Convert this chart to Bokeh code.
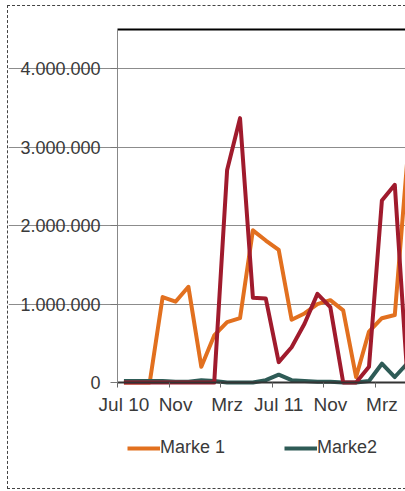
from bokeh.plotting import figure
from bokeh.models import (FixedTicker, LinearAxis, Range1d, Legend, LegendItem,
                          ColumnDataSource)
from bokeh.embed import file_html
from bokeh.resources import INLINE

# ---- data -------------------------------------------------------------
months = ["Jul 10", "Aug 10", "Sep 10", "Okt 10", "Nov 10", "Dez 10",
          "Jan 11", "Feb 11", "Mrz 11", "Apr 11", "Mai 11", "Jun 11",
          "Jul 11", "Aug 11", "Sep 11", "Okt 11", "Nov 11", "Dez 11",
          "Jan 12", "Feb 12", "Mrz 12", "Apr 12", "Mai 12"]
marke1 = [0, 0, 0, 1090000, 1030000, 1220000, 200000, 600000, 770000,
          820000, 1940000, 1810000, 1690000, 800000, 880000, 1000000,
          1050000, 920000, 70000, 650000, 820000, 860000, 2900000]
marke2 = [20000, 20000, 20000, 20000, 10000, 10000, 30000, 20000, 0, 0, 0,
          30000, 100000, 30000, 20000, 10000, 10000, 0, 0, 20000, 240000,
          70000, 250000]
marke3 = [0, 0, 0, 0, 0, 0, 0, 0, 2710000, 3370000, 1080000, 1070000,
          260000, 450000, 750000, 1130000, 960000, 0, 0, 200000, 2320000,
          2520000, 0]
series_names = ["Marke 1", "Marke2"]
x_tick_labels = ["Jul 10", "Nov", "Mrz", "Jul 11", "Nov", "Mrz"]
y_ticks = [0, 1000000, 2000000, 3000000, 4000000]
y_tick_labels = ["0", "1.000.000", "2.000.000", "3.000.000", "4.000.000"]

# ---- figure -----------------------------------------------------------
idx = list(range(len(months)))
src = ColumnDataSource(dict(x=idx, m1=marke1, m2=marke2, m3=marke3))

FONT = "Liberation Sans"
TXT = "#3a3a3a"
Y_TOP = 4500000
Y_BOTTOM = -1351000   # room below the zero line for labels and legend
X_LEFT = -0.5         # left edge of the plotting area (first category edge)
X_RIGHT = 21.83
X_START = -8.95       # room left of the plotting area for the y labels

p = figure(width=397, height=482,
           x_range=Range1d(X_START, X_RIGHT), y_range=Range1d(Y_BOTTOM, Y_TOP),
           output_backend="svg", toolbar_location=None,
           x_axis_location=None, y_axis_location=None,
           min_border_left=0, min_border_top=23, min_border_right=0,
           min_border_bottom=0,
           margin=(6, 0, 0, 8),
           styles={"outline": "1px dashed #444444", "outline-offset": "0px"})
p.outline_line_color = None
p.background_fill_color = "white"
p.border_fill_color = "white"

label_pos = [i for i in idx if i % 4 == 0][:len(x_tick_labels)]
bound_pos = [i - 0.5 for i in label_pos]

xa = LinearAxis(fixed_location=0, bounds=(X_LEFT, X_RIGHT),
                ticker=FixedTicker(ticks=label_pos, minor_ticks=bound_pos))
xa.major_label_overrides = {i: lab for i, lab in zip(label_pos, x_tick_labels)}
xa.major_tick_out = 0
xa.major_tick_in = 0
xa.minor_tick_out = 5
xa.minor_tick_in = 0
xa.minor_tick_line_color = "#666666"
xa.minor_tick_line_width = 1
xa.axis_line_color = "#333333"
xa.axis_line_width = 2
xa.major_label_standoff = 6
xa.major_label_text_font = FONT
xa.major_label_text_font_size = "19px"
xa.major_label_text_color = TXT
p.add_layout(xa, "below")

ya = LinearAxis(fixed_location=X_LEFT, bounds=(0, Y_TOP),
                ticker=FixedTicker(ticks=y_ticks, minor_ticks=[]))
ya.major_label_overrides = {t: l for t, l in zip(y_ticks, y_tick_labels)}
ya.major_tick_out = 7
ya.major_tick_in = 0
ya.major_tick_line_color = "#777777"
ya.axis_line_color = "#888888"
ya.axis_line_width = 1
ya.major_label_standoff = 10
ya.major_label_text_font = FONT
ya.major_label_text_font_size = "18px"
ya.major_label_text_color = TXT
p.add_layout(ya, "left")

p.xgrid.visible = False
p.ygrid.ticker = FixedTicker(ticks=y_ticks[1:])
p.ygrid.bounds = (X_LEFT, X_RIGHT)
p.ygrid.grid_line_color = "#8c8c8c"
p.ygrid.grid_line_width = 1

top = LinearAxis(ticker=FixedTicker(ticks=[]), bounds=(X_LEFT, X_RIGHT),
                 axis_line_color="black",
                 axis_line_width=2, major_tick_out=0, major_tick_in=0,
                 minor_tick_out=0, minor_tick_in=0,
                 major_label_text_font_size="0px")
p.add_layout(top, "above")

r1 = p.line("x", "m1", source=src, line_color="#E2701F", line_width=4,
            line_join="round")
r2 = p.line("x", "m2", source=src, line_color="#2E5B56", line_width=4,
            line_join="round")
r3 = p.line("x", "m3", source=src, line_color="#A01B2D", line_width=4,
            line_join="round")

legend = Legend(items=[LegendItem(label=series_names[0], renderers=[r1]),
                       LegendItem(label=series_names[1], renderers=[r2])],
                orientation="horizontal", location=(119, 30),
                padding=0, margin=0, spacing=59,
                glyph_width=33, glyph_height=20, label_standoff=0,
                label_text_font=FONT, label_text_font_size="18px",
                label_text_color=TXT, border_line_color=None,
                background_fill_alpha=0)
p.add_layout(legend, "center")

open("out.html", "w").write(file_html(p, INLINE))
